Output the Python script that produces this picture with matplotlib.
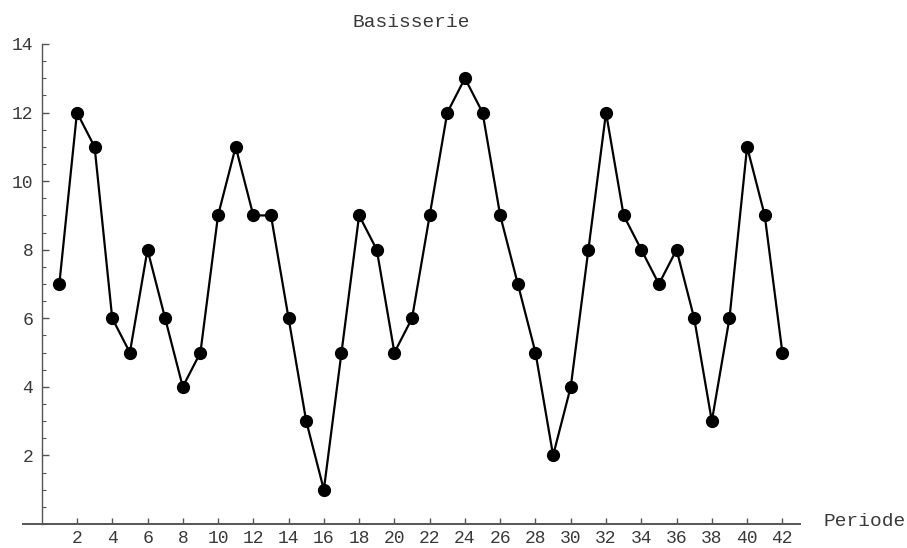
import matplotlib
matplotlib.use("Agg")
import matplotlib.pyplot as plt
from matplotlib.ticker import MultipleLocator

periode = list(range(1, 43))
werte = [7, 12, 11, 6, 5, 8, 6, 4, 5, 9, 11, 9, 9, 6, 3, 1, 5, 9, 8, 5, 6,
         9, 12, 13, 12, 9, 7, 5, 2, 4, 8, 12, 9, 8, 7, 8, 6, 3, 6, 11, 9, 5]
x_ticks = list(range(2, 43, 2))
y_ticks = list(range(2, 15, 2))

plt.rcParams["font.family"] = ["Liberation Mono", "DejaVu Sans Mono"]

W, H = 907, 548
fig = plt.figure(figsize=(W / 100, H / 100), dpi=100)
ax = fig.add_axes([23 / W, (H - 524) / H, (800 - 23) / W, (524 - 44) / H])

ax.plot(periode, werte, color="black", lw=1.6, marker="o", ms=8.5,
        clip_on=False, zorder=3)

ax.set_xlim(-1.06, 43)
ax.set_ylim(0, 14)

axis_col = "#555555"
txt_col = "#3a3a3a"
for s in ["top", "right"]:
    ax.spines[s].set_visible(False)
ax.spines["left"].set_position(("data", 0))
ax.spines["left"].set_color(axis_col)
ax.spines["bottom"].set_color(axis_col)
ax.spines["left"].set_linewidth(1.0)
ax.spines["bottom"].set_linewidth(1.4)

ax.set_xticks(x_ticks)
ax.set_yticks(y_ticks)
ax.yaxis.set_minor_locator(MultipleLocator(0.5))
ax.tick_params(axis="x", direction="in", length=4, width=1, color=axis_col,
               labelsize=13, pad=4, labelcolor=txt_col)
ax.tick_params(axis="y", which="major", direction="in", length=5, width=1,
               color=axis_col, labelsize=13, pad=6, labelcolor=txt_col)
ax.tick_params(axis="y", which="minor", direction="in", length=3, width=0.8,
               color=axis_col)

ax.set_title("Basisserie", fontsize=14, color=txt_col, pad=12)
ax.text(1.03, 0.005, "Periode", transform=ax.transAxes, fontsize=14,
        color=txt_col, va="center", ha="left")

fig.savefig("out.png", dpi=100)
plt.close(fig)
